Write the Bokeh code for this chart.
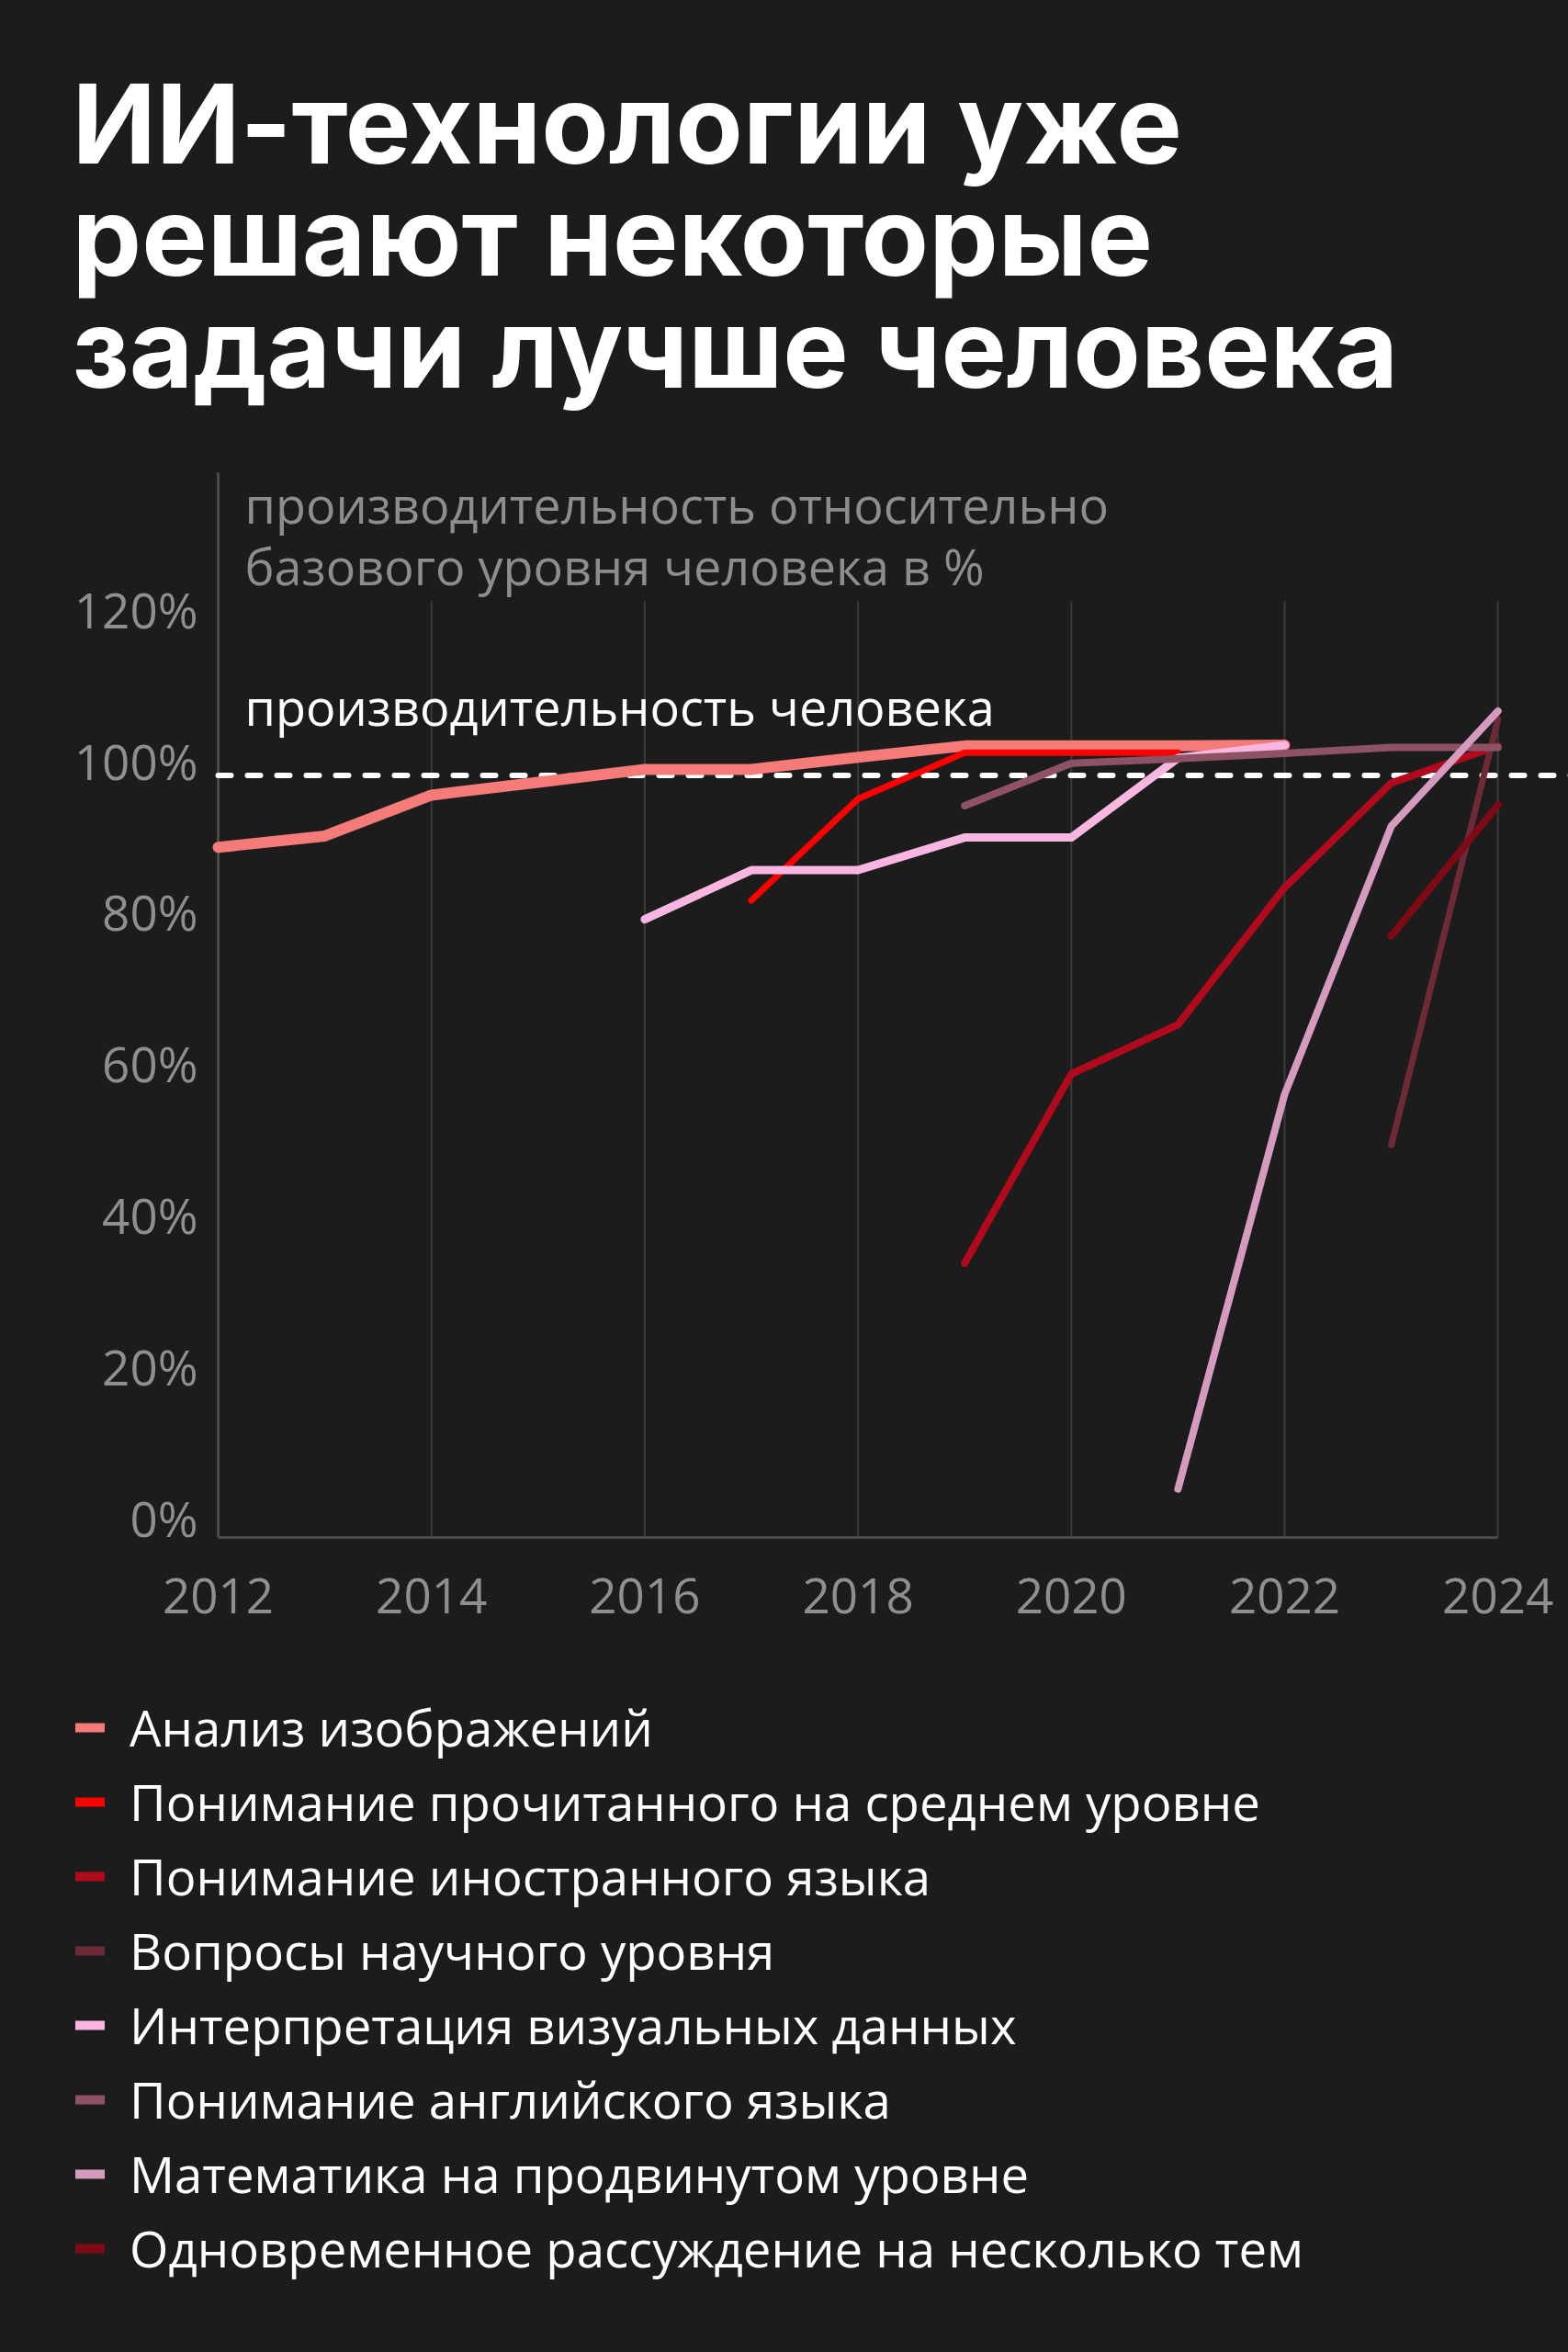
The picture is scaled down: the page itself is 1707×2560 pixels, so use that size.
from bokeh.plotting import figure
from bokeh.layouts import column
from bokeh.embed import file_html
from bokeh.resources import INLINE
from bokeh.core.properties import value
from bokeh.models import (Range1d, FixedTicker, PrintfTickFormatter, Label,
                          Legend, LegendItem, GlobalInlineStyleSheet)

BG = "#1c1c1c"

TITLE_LINES = ["ИИ-технологии уже", "решают некоторые", "задачи лучше человека"]
Y_NOTE = ["производительность относительно", "базового уровня человека в %"]
HUMAN_NOTE = "производительность человека"
HUMAN_LEVEL = 100

X_TICKS = [2012, 2014, 2016, 2018, 2020, 2022, 2024]
Y_TICKS = [0, 20, 40, 60, 80, 100, 120]
Y_LABELS = ["0%", "20%", "40%", "60%", "80%", "100%", "120%"]

# values, % of human baseline
image_years = [2012, 2013, 2014, 2015, 2016, 2017, 2018, 2019, 2020, 2021, 2022]
image_vals = [90.5, 92.0, 97.4, 99.1, 100.8, 100.8, 102.4, 103.9, 103.9, 103.9, 104.0]

reading_years = [2017, 2018, 2019, 2020, 2021]
reading_vals = [83.5, 96.9, 103.0, 103.0, 103.0]

foreign_years = [2019, 2020, 2021, 2022, 2023, 2024]
foreign_vals = [35.6, 60.6, 67.1, 85.2, 99.0, 103.9]

science_years = [2023, 2024]
science_vals = [51.2, 107.4]

visual_years = [2016, 2017, 2018, 2019, 2020, 2021, 2022]
visual_vals = [81.0, 87.5, 87.5, 91.8, 91.8, 102.3, 104.0]

english_years = [2019, 2020, 2021, 2022, 2023, 2024]
english_vals = [96.0, 101.6, 102.2, 102.9, 103.7, 103.7]

math_years = [2021, 2022, 2023, 2024]
math_vals = [5.8, 57.9, 93.3, 108.5]

multi_years = [2023, 2024]
multi_vals = [78.8, 96.1]

NAMES = ["Анализ изображений",
         "Понимание прочитанного на среднем уровне",
         "Понимание иностранного языка",
         "Вопросы научного уровня",
         "Интерпретация визуальных данных",
         "Понимание английского языка",
         "Математика на продвинутом уровне",
         "Одновременное рассуждение на несколько тем"]
COLORS = ["#f47b78", "#fe0000", "#b10a1d", "#6e2a37",
          "#f9b6e0", "#8d5264", "#d49bbe", "#7d0a14"]
WIDTHS = [12, 7, 8, 7, 9, 8, 8, 8]

SERIES = list(zip(NAMES,
                  [image_years, reading_years, foreign_years, science_years,
                   visual_years, english_years, math_years, multi_years],
                  [image_vals, reading_vals, foreign_vals, science_vals,
                   visual_vals, english_vals, math_vals, multi_vals],
                  COLORS, WIDTHS))

GRID_TOP = 123      # grid lines stop a bit above the last tick
AXIS_TOP = 140      # left axis line goes higher, up to the unit note

# page geometry (px)
PAGE_W, PAGE_H = 1707, 2560
FRAME_LEFT = 29
ZERO_Y = 1668       # page y of the 0% line
Y_PAD = 5           # a little room under 0% so the "0%" label is not cut
AXIS_H = 105        # room for the year labels
AXIS_X = 237        # x position of 2012
PX_YEAR = 116.1
PX_PCT = 8.245


def page_y(py):
    return (ZERO_Y - py) / PX_PCT


x_start = X_TICKS[0] - (AXIS_X - FRAME_LEFT) / PX_YEAR
x_end = X_TICKS[0] + (PAGE_W - AXIS_X) / PX_YEAR
y_start = -Y_PAD / PX_PCT

p = figure(frame_width=PAGE_W - FRAME_LEFT, frame_height=ZERO_Y + Y_PAD,
           x_range=Range1d(x_start, x_end), y_range=Range1d(y_start, ZERO_Y / PX_PCT),
           output_backend="svg", toolbar_location=None, y_axis_location=None,
           min_border_left=FRAME_LEFT, min_border_right=0, min_border_top=0,
           min_border_bottom=AXIS_H)
p.background_fill_color = BG
p.border_fill_color = BG
p.outline_line_color = None
p.grid.visible = False
p.stylesheets = [GlobalInlineStyleSheet(css="body { background: #1c1c1c; }")]

ax = p.xaxis[0]
ax.ticker = FixedTicker(ticks=X_TICKS)
ax.formatter = PrintfTickFormatter(format="%d")
ax.bounds = (X_TICKS[0], X_TICKS[-1])
ax.axis_line_color = "#4a4a4a"
ax.axis_line_width = 3
ax.major_tick_line_color = None
ax.minor_tick_line_color = None
ax.major_tick_out = 0
ax.major_tick_in = 0
ax.major_label_standoff = 44
ax.major_label_text_color = "#8f8f8f"
ax.major_label_text_font = "Open Sans"
ax.major_label_text_font_size = "53px"

# left axis line and y tick labels
p.segment(x0=X_TICKS[0], y0=y_start, x1=X_TICKS[0], y1=AXIS_TOP,
          line_color="#4a4a4a", line_width=3)
p.text(x=[X_TICKS[0]] * len(Y_TICKS), y=Y_TICKS, text=Y_LABELS, x_offset=-22, y_offset=-16,
       text_align="right", text_baseline="middle", text_font=value("Open Sans"),
       text_font_size="53px", text_color="#8f8f8f")

p.segment(x0=X_TICKS[1:], y0=y_start, x1=X_TICKS[1:], y1=GRID_TOP,
          line_color="#3a3a3a", line_width=2)

# human level, from the axis to the right edge
p.ray(x=[X_TICKS[0]], y=[HUMAN_LEVEL], length=0, angle=0, line_color="white",
      line_width=6, line_dash="14 18", line_cap="round")

for name, xs, ys, color, w in SERIES:
    p.line(xs, ys, line_color=color, line_width=w, line_cap="round", line_join="round")

for txt, yv in zip(Y_NOTE, (135.8, 127.7)):
    p.add_layout(Label(x=X_TICKS[0], y=yv, x_offset=29, text=txt, text_font="Open Sans",
                       text_font_size="54px", text_color="#8d8d8d", text_baseline="middle"))
p.add_layout(Label(x=X_TICKS[0], y=109.1, x_offset=29, text=HUMAN_NOTE, text_font="Open Sans",
                   text_font_size="54px", text_color="white", text_baseline="middle"))

for line, mid in zip(TITLE_LINES, (134, 256, 378)):
    p.add_layout(Label(x=X_TICKS[0], x_offset=78 - AXIS_X, y=page_y(mid), text=line,
                       text_font="Inter", text_font_style="bold", text_font_size="120px",
                       text_color="white", text_baseline="middle"))

# legend block under the chart; its lines sit outside its own ranges
leg = figure(width=PAGE_W, height=PAGE_H - ZERO_Y - Y_PAD - AXIS_H,
             x_range=(0, 1), y_range=(0, 1),
             output_backend="svg", toolbar_location=None,
             x_axis_location=None, y_axis_location=None,
             min_border_left=FRAME_LEFT, min_border_top=12, min_border_right=0,
             min_border_bottom=0)
leg.grid.visible = False
leg.outline_line_color = None
leg.background_fill_color = BG
leg.border_fill_color = BG

items = []
for name, xs, ys, color, w in SERIES:
    r = leg.line(xs, ys, line_color=color, line_width=10, line_cap="round")
    items.append(LegendItem(label=name, renderers=[r]))
leg.add_layout(Legend(items=items, location="top_left", orientation="vertical",
                      label_text_font="Open Sans", label_text_font_size="54.5px",
                      label_text_color="white", glyph_width=32, glyph_height=20,
                      label_height=20, label_standoff=27, spacing=7, padding=0, margin=53,
                      border_line_alpha=0, background_fill_alpha=0))

layout = column(p, leg, spacing=0)
open("out.html", "w").write(file_html(layout, INLINE))
